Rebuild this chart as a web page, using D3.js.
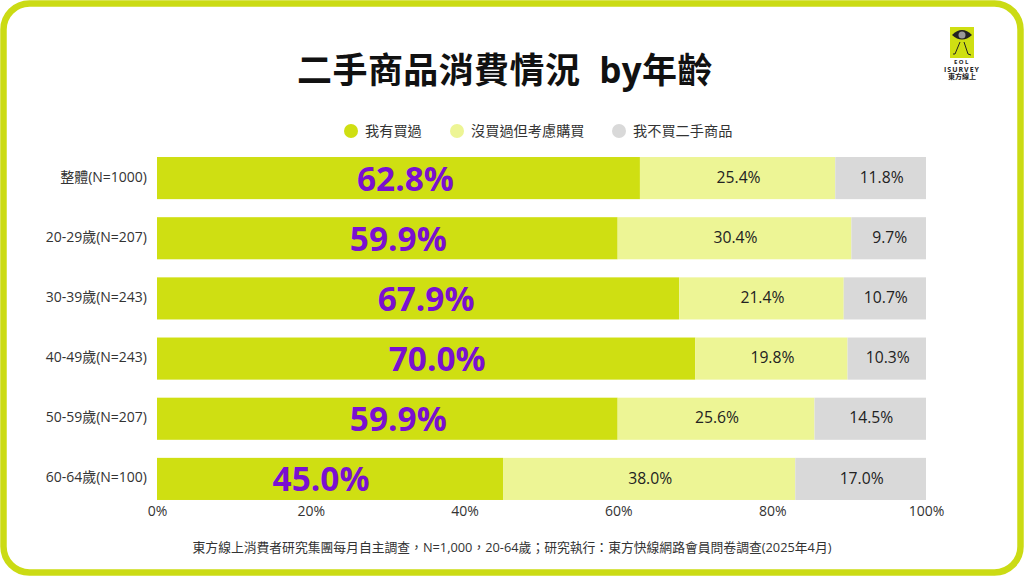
<!DOCTYPE html>
<html>
<head>
<meta charset="utf-8">
<script src="https://cdn.jsdelivr.net/npm/d3@7"></script>
<style>
html, body { margin: 0; padding: 0; background: #fff; }
svg { display: block; }
text { font-family: "Open Sans", "Noto Sans CJK TC", sans-serif; }
</style>
</head>
<body>
<script>
// chart data
var categories = ['整體(N=1000)', '20-29歲(N=207)', '30-39歲(N=243)', '40-49歲(N=243)', '50-59歲(N=207)', '60-64歲(N=100)'];
var bought = [62.8, 59.9, 67.9, 70.0, 59.9, 45.0];
var considering = [25.4, 30.4, 21.4, 19.8, 25.6, 38.0];
var never = [11.8, 9.7, 10.7, 10.3, 14.5, 17.0];
var seriesNames = ['我有買過', '沒買過但考慮購買', '我不買二手商品'];
var seriesColors = ['#cfdf12', '#edf595', '#d9d9d9'];
var xTicks = [0, 20, 40, 60, 80, 100];
var title = '二手商品消費情況  by年齡';
var footnote = '東方線上消費者研究集團每月自主調查，N=1,000，20-64歲；研究執行：東方快線網路會員問卷調查(2025年4月)';

// the big labels sit off-centre in the original, in px
var boughtLabelShift = [7, 11, 8, 11, 11, -9];

var svg = d3.select('body')
  .append('svg')
  .attr('width', 1024)
  .attr('height', 576);

// outer frame
svg.append('rect')
  .attr('x', 3.5).attr('y', 3.5)
  .attr('width', 1017).attr('height', 569)
  .attr('rx', 26)
  .attr('fill', '#fff')
  .attr('stroke', '#cbdb14')
  .attr('stroke-width', 6.5);

svg.append('text')
  .attr('x', 505).attr('y', 83)
  .attr('text-anchor', 'middle')
  .attr('xml:space', 'preserve')
  .style('white-space', 'pre')
  .style('font-size', '35px')
  .style('font-weight', 700)
  .style('letter-spacing', '0.4px')
  .attr('fill', '#111')
  .text(title);

// logo
var logo = svg.append('g').attr('transform', 'translate(950,27)');
logo.append('rect').attr('width', 24).attr('height', 31).attr('fill', '#cfdf12');
logo.append('path').attr('d', 'M2,8 Q12,-2 22,8 Q12,17 2,8 Z').attr('fill', '#222');
logo.append('circle').attr('cx', 12).attr('cy', 8).attr('r', 3.5).attr('fill', '#999');
logo.append('path')
  .attr('d', 'M10,15 L5,27 L3,27 M14,15 L18,27 L21,28')
  .attr('fill', 'none').attr('stroke', '#222').attr('stroke-width', 1);
[['EOL', 64, 6, 1.5], ['ISURVEY', 72, 7, 1], ['東方線上', 79, 7, 0]].forEach(function(d) {
  svg.append('text')
    .attr('x', 962).attr('y', d[1])
    .attr('text-anchor', 'middle')
    .style('font-size', d[2] + 'px')
    .style('font-weight', 700)
    .style('letter-spacing', d[3] + 'px')
    .attr('fill', '#222')
    .text(d[0]);
});

// legend
var legendX = [351, 457, 619];
seriesNames.forEach(function(name, i) {
  svg.append('circle')
    .attr('cx', legendX[i]).attr('cy', 131).attr('r', 7)
    .attr('fill', seriesColors[i]);
  svg.append('text')
    .attr('x', legendX[i] + 14).attr('y', 136)
    .style('font-size', '14.2px')
    .attr('fill', '#333')
    .text(name);
});

// scales
var x = d3.scaleLinear().domain([0, 100]).range([157, 926]);
var y = d3.scaleBand().domain(categories).range([148, 509]).paddingInner(0.3).paddingOuter(0.15);

var rows = categories.map(function(c, i) {
  return {category: c, bought: bought[i], considering: considering[i], never: never[i]};
});
var stack = d3.stack().keys(['bought', 'considering', 'never']);
var layers = stack(rows);

layers.forEach(function(layer, i) {
  var g = svg.append('g');
  g.selectAll('rect')
    .data(layer)
    .enter()
    .append('rect')
    .attr('x', function(d) { return x(d[0]); })
    .attr('y', function(d) { return y(d.data.category); })
    .attr('width', function(d) { return Math.min(x(d[1]), x(100)) - x(d[0]); })
    .attr('height', y.bandwidth())
    .attr('fill', seriesColors[i]);
  g.selectAll('text')
    .data(layer)
    .enter()
    .append('text')
    .attr('x', function(d, j) {
      var mid = (x(d[0]) + Math.min(x(d[1]), x(100))) / 2;
      return i === 0 ? mid + boughtLabelShift[j] : mid + 1;
    })
    .attr('y', function(d) { return y(d.data.category) + y.bandwidth() / 2 + (i === 0 ? 0.5 : -1); })
    .attr('dy', '0.36em')
    .attr('text-anchor', 'middle')
    .style('font-size', i === 0 ? '33.4px' : '15.7px')
    .style('font-weight', i === 0 ? 700 : 400)
    .attr('fill', i === 0 ? '#7a10d0' : '#222')
    .text(function(d) { return (d[1] - d[0]).toFixed(1) + '%'; });
});

// axes
var yAxis = svg.append('g')
  .attr('transform', 'translate(157,0)')
  .call(d3.axisLeft(y).tickSize(0).tickPadding(10));
yAxis.select('.domain').remove();
yAxis.selectAll('text')
  .style('font-family', '"Open Sans", "Noto Sans CJK TC", sans-serif')
  .style('font-size', '14px')
  .attr('dy', '0.25em')
  .attr('fill', '#333');

var xAxis = svg.append('g')
  .attr('transform', 'translate(0,500)')
  .call(d3.axisBottom(x).tickValues(xTicks).tickSize(0).tickPadding(6).tickFormat(function(d) { return d + '%'; }));
xAxis.select('.domain').remove();
xAxis.selectAll('text')
  .style('font-family', '"Open Sans", "Noto Sans CJK TC", sans-serif')
  .style('font-size', '14px')
  .attr('fill', '#333');

svg.append('text')
  .attr('x', 512).attr('y', 551.5)
  .attr('text-anchor', 'middle')
  .style('font-size', '12.8px')
  .attr('fill', '#333')
  .text(footnote);
</script>
</body>
</html>
